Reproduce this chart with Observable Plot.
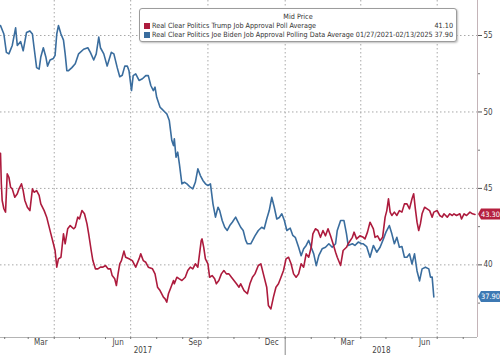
<!DOCTYPE html>
<html><head><meta charset="utf-8">
<script src="https://cdn.jsdelivr.net/npm/d3@7"></script>
<script src="https://cdn.jsdelivr.net/npm/@observablehq/plot@0.6"></script>
<style>
html,body{margin:0;padding:0;background:#fff;}
#wrap{position:relative;width:500px;height:355px;font-family:"Liberation Sans Narrow","Arial Narrow","DejaVu Sans Condensed",sans-serif;}
#legend{position:absolute;left:139px;top:8px;width:316px;height:32px;border:1px solid #9c9c9c;border-radius:3px;background:#fff;box-shadow:1px 1px 2px rgba(0,0,0,.25);font-size:7.2px;color:#333;line-height:8px;}
#legend .title{position:absolute;left:0;right:0;top:4px;text-align:center;}
#legend .row{position:absolute;left:4px;right:3px;height:8px;white-space:nowrap;}
#legend .sw{display:inline-block;width:6px;height:6px;vertical-align:top;margin-top:1px;margin-right:2px;}
#legend .val{position:absolute;right:0;top:0;}
</style>
</head><body>
<div id="wrap"><div id="chart"></div>
<div id="legend"></div></div>
<script>
// ---- data (day offsets from 2017-01-27) ----
const seriesNames = ["Real Clear Politics Trump Job Approval Poll Average",
  "Real Clear Politics Joe Biden Job Approval Polling Data Average 01/27/2021-02/13/2025"];
const legendValues = ["41.10", "37.90"];
const legendTitle = "Mid Price";
const yTicks = [40, 45, 50, 55];
const yMinorTicks = [37.5, 42.5, 47.5, 52.5];

const trumpDay = [0,1,2,4,6,8,10,12,14,17,20,22,25,27,29,32,35,38,40,43,46,48,52,55,57,60,63,65,67,69,72,75,77,80,83,87,89,92,94,97,100,103,105,108,110,113,116,119,122,125,128,131,133,136,138,140,142,144,147,149,153,157,161,165,167,170,173,176,181,184,187,190,194,196,198,200,203,206,207,210,213,216,220,223,226,229,232,235,237,239,240,242,244,247,249,252,255,257,260,263,266,269,272,275,278,281,284,286,290,294,297,300,303,307,310,313,317,319,322,325,328,331,334,337,340,343,346,349,352,355,358,361,364,367,370,372,375,378,381,384,387,390,393,396,399,401,405,408,412,414,419,421,424,428,432,434,437,440,444,446,449,452,455,458,460,462,464,466,469,472,475,478,481,484,487,490,492,494,496,498,500,502,505,508,511,514,516,520,523,526,528,532,535,538,540,543,547,549,552,555,559,562,565];
const trumpValue = [47.3,45.3,44.21,43.67,43.45,45.95,45.73,45.08,44.97,44.42,44.65,44.97,45.3,44.86,44.21,43.77,43.55,44.97,44.75,44.86,44.54,43.99,43.55,43.12,42.68,42.03,41.38,40.94,39.85,40.39,40.5,42.03,41.38,42.36,42.57,42.36,42.46,43.12,43.0,43.55,43.34,42.68,42.03,40.94,40.28,39.74,39.74,39.85,39.85,39.96,39.74,39.74,39.3,39.09,38.65,39.41,40.07,40.28,40.9,40.5,40.4,40.28,39.85,40.39,40.72,40.28,40.17,39.85,39.74,39.41,38.54,38.32,37.89,37.78,37.56,38.11,38.54,38.98,38.76,39.19,39.08,38.98,39.19,39.63,39.85,39.74,40.07,39.85,40.72,41.59,41.7,41.15,40.39,40.07,39.19,39.3,39.09,38.76,38.98,39.41,39.63,39.41,39.41,39.19,38.98,38.76,38.54,38.76,38.32,38.11,38.76,39.19,39.41,39.96,40.07,39.41,38.54,37.34,37.12,37.89,38.54,38.76,39.19,39.63,40.39,40.5,40.07,39.41,39.19,39.41,40.07,39.85,40.72,40.5,41.15,42.03,42.36,42.25,41.8,42.25,41.9,42.36,41.9,41.38,40.83,40.5,39.96,40.94,41.15,41.38,41.8,42.14,41.7,41.9,41.8,41.7,42.14,42.79,42.36,41.8,41.9,41.59,41.8,43.12,43.55,44.32,43.45,43.23,43.45,43.23,43.55,43.45,43.99,43.99,43.66,44.32,44.65,43.66,42.79,42.25,42.68,43.34,43.77,43.66,43.55,43.12,43.45,43.55,43.23,43.12,43.34,43.12,43.34,43.23,43.34,43.23,43.34,43.0,43.34,43.23,43.45,43.34,43.3];

const bidenDay = [0,4,7,10,14,18,20,24,27,31,35,38,40,43,46,48,51,54,56,59,63,65,67,69,72,75,77,79,81,85,89,93,99,104,107,111,114,117,119,123,127,132,135,139,142,145,148,151,153,156,158,161,165,169,173,176,179,182,184,186,190,192,196,198,201,204,206,207,209,211,213,216,219,222,226,229,232,235,238,241,244,247,250,253,256,259,261,264,267,270,273,276,280,282,286,289,292,294,298,303,307,311,314,317,320,323,326,329,332,335,338,341,345,348,351,355,358,361,364,367,370,373,376,379,383,387,391,395,399,401,405,409,412,414,419,422,426,430,432,436,440,444,448,452,456,459,463,466,469,472,475,478,481,484,487,490,493,496,499,502,506,510,512,514,516];
const bidenValue = [55.65,55.1,53.9,53.8,54.35,55.5,54.35,54.6,54.0,55.2,55.3,55.1,54.2,52.9,52.8,53.6,54.2,53.6,53.0,53.4,53.5,53.7,55.1,55.65,55.1,54.7,53.8,52.7,52.7,52.9,53.15,53.8,54.1,54.2,53.9,53.4,53.8,54.9,54.2,53.8,53.0,53.9,53.8,52.9,52.3,52.4,53.0,53.0,52.7,51.4,52.38,52.49,52.06,52.17,52.38,52.38,51.73,51.4,51.62,50.96,50.31,50.2,49.98,49.88,49.44,48.13,47.8,48.24,47.04,47.37,46.6,45.3,45.4,45.3,45.08,44.97,45.4,46.28,45.84,45.52,45.3,45.19,45.3,43.99,43.12,43.77,43.55,42.9,42.46,42.25,42.57,42.79,43.12,42.9,42.46,42.25,41.6,41.38,41.38,41.9,42.25,42.46,42.36,43.0,43.55,44.42,43.77,43.0,43.1,43.34,42.9,42.25,42.4,41.93,41.8,41.15,40.6,41.05,41.27,41.6,41.15,40.72,39.95,40.6,41.05,41.15,41.38,41.15,41.38,42.25,42.9,42.9,42.03,41.27,41.38,41.27,41.49,41.38,41.38,41.2,40.5,41.27,40.83,41.15,41.7,42.14,42.57,42.03,41.38,41.8,41.15,41.2,40.5,40.5,40.72,40.06,40.72,39.6,38.95,39.74,39.85,39.74,39.2,39.2,37.9];

const red = "#ad1b3d", blue = "#3a6d9e";
const redTag = "#b5203f", blueTag = "#3d79b3";

// ---- build ----
const start = new Date(2017, 0, 27);
const end = d3.timeDay.offset(start, 568);
const toDate = d => d3.timeDay.offset(start, d);
const trump = trumpDay.map((d, i) => ({date: toDate(d), value: trumpValue[i]}));
const biden = bidenDay.map((d, i) => ({date: toDate(d), value: bidenValue[i]}));
const yDomain = [35.25, 57.29];

const monthStarts = d3.timeMonth.range(d3.timeMonth.ceil(start), end);
const quarterStarts = monthStarts.filter(d => d.getMonth() % 3 === 0);
const midMonths = monthStarts.filter(d => d.getMonth() % 3 === 2).map(d => new Date(d.getFullYear(), d.getMonth(), 16));
const yearStarts = monthStarts.filter(d => d.getMonth() === 0);
const yearBounds = [start, ...yearStarts, end];
const yearCenters = d3.pairs(yearBounds).map(([a, b]) => new Date((+a + +b) / 2));
const font = '"Liberation Sans Narrow","Arial Narrow","DejaVu Sans Condensed",sans-serif';
const noLabel = () => "";

const chart = Plot.plot({
  width: 500, height: 355,
  marginLeft: 0, marginRight: 23, marginTop: 0, marginBottom: 18,
  x: {type: "time", domain: [start, end], label: null},
  y: {domain: yDomain, label: null},
  style: {fontFamily: font, fontSize: "8px", color: "#444", background: "transparent", overflow: "visible"},
  marks: [
    Plot.gridY(yTicks, {stroke: "#a8a8a8", strokeOpacity: 1, strokeDasharray: "1.5,2.5"}),
    Plot.gridX(quarterStarts, {stroke: "#a8a8a8", strokeOpacity: 1, strokeDasharray: "1.5,2.5"}),
    Plot.ruleY([yDomain[0]], {stroke: "#b4b4b4"}),
    Plot.ruleX([end], {stroke: "#c4b4b8"}),
    Plot.axisY({anchor: "right", ticks: yTicks, tickSize: 4, tickPadding: 2, tickFormat: d => d, label: null, stroke: "#555"}),
    Plot.axisY({anchor: "right", ticks: yMinorTicks, tickSize: 2, tickFormat: noLabel, label: null, stroke: "#777"}),
    Plot.axisX({ticks: monthStarts, tickSize: 2, tickFormat: noLabel, label: null, stroke: "#777"}),
    Plot.axisX({ticks: midMonths, tickSize: 0, tickPadding: 2, tickFormat: "%b", label: null}),
    Plot.axisX({ticks: yearStarts, tickSize: 18, tickFormat: noLabel, label: null, stroke: "#888"}),
    Plot.axisX({ticks: yearCenters, tickSize: 0, tickPadding: 10, tickFormat: "%Y", label: null}),
    Plot.line(biden, {x: "date", y: "value", stroke: blue, strokeWidth: 1.6}),
    Plot.line(trump, {x: "date", y: "value", stroke: red, strokeWidth: 1.6})
  ]
});
document.getElementById("chart").appendChild(chart);

// ---- end-value tags, positioned via the plot's own scales ----
const ys = chart.scale("y"), xs = chart.scale("x");
const x0 = xs.range[1];
const svg = d3.select(chart);
[[trumpValue[trumpValue.length - 1], redTag], [bidenValue[bidenValue.length - 1], blueTag]].forEach(([v, c]) => {
  const y = ys.apply(v);
  const g = svg.append("g");
  g.append("path")
    .attr("d", `M${x0 + 1},${y} L${x0 + 4},${y - 5.5} H${500} V${y + 5.5} H${x0 + 4} Z`)
    .attr("fill", c);
  g.append("text").attr("x", x0 + 4 + (500 - x0 - 4) / 2).attr("y", y).attr("dy", "0.35em")
    .attr("text-anchor", "middle").attr("fill", "#fff").attr("font-size", 7.4).text(v.toFixed(2));
});

// ---- legend ----
const lg = d3.select("#legend");
lg.append("div").attr("class", "title").text(legendTitle);
[red, blue].forEach((c, i) => {
  const row = lg.append("div").attr("class", "row").style("top", (13 + i * 9) + "px");
  row.append("span").attr("class", "sw").style("background", c);
  row.append("span").text(seriesNames[i]);
  row.append("span").attr("class", "val").text(legendValues[i]);
});
</script>
</body></html>
